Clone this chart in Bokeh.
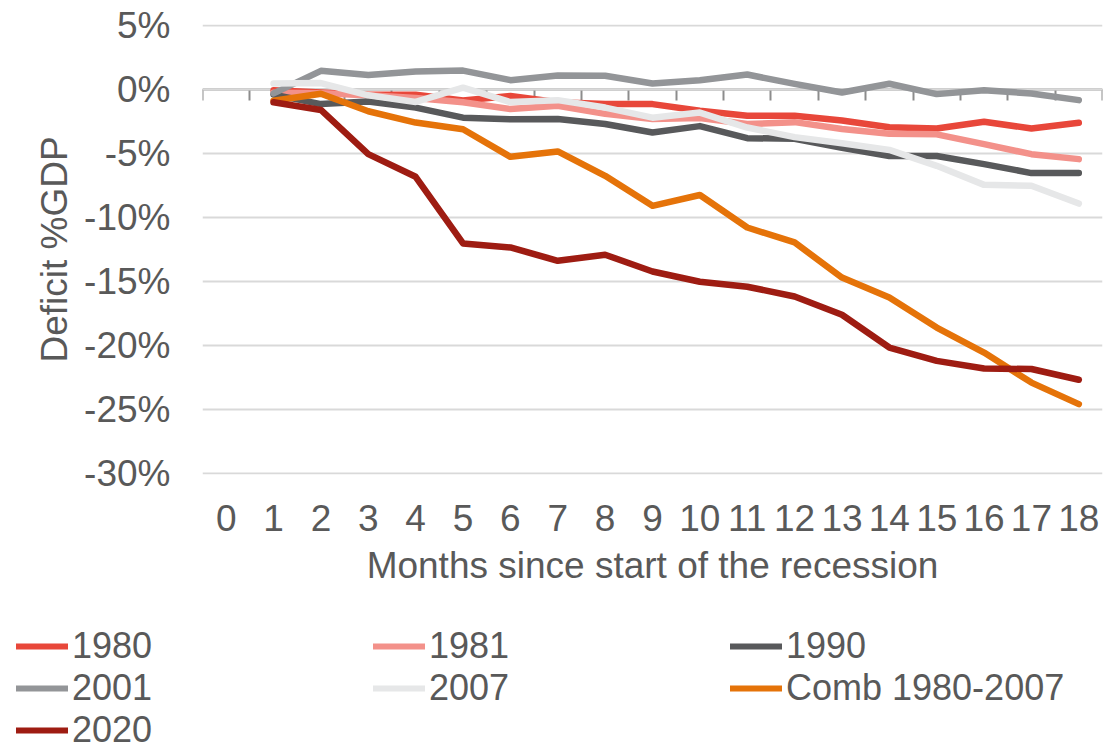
from bokeh.plotting import figure
from bokeh.layouts import column
from bokeh.models import (Range1d, FixedTicker, PrintfTickFormatter, LinearAxis,
                          Legend, LegendItem)
from bokeh.embed import file_html
from bokeh.resources import INLINE

# ---- data -------------------------------------------------------------
months = [0, 1, 2, 3, 4, 5, 6, 7, 8, 9, 10, 11, 12, 13, 14, 15, 16, 17, 18]
x_data = [1, 2, 3, 4, 5, 6, 7, 8, 9, 10, 11, 12, 13, 14, 15, 16, 17, 18]

s1980 = [-0.05, -0.23, -0.4, -0.4, -0.85, -0.5, -1.0, -1.14, -1.14, -1.66, -2.05, -2.05,
         -2.42, -2.95, -3.05, -2.52, -3.05, -2.6]
s1981 = [-0.25, -0.3, -0.45, -0.67, -1.0, -1.53, -1.27, -1.9, -2.3, -2.23, -2.7, -2.55,
         -3.08, -3.46, -3.5, -4.27, -5.05, -5.44]
s1990 = [-0.4, -1.14, -0.94, -1.41, -2.2, -2.33, -2.31, -2.7, -3.36, -2.86, -3.8, -3.85,
         -4.55, -5.2, -5.2, -5.83, -6.53, -6.53]
s2001 = [-0.3, 1.46, 1.13, 1.4, 1.48, 0.73, 1.1, 1.07, 0.47, 0.73, 1.17, 0.44,
         -0.23, 0.45, -0.36, -0.05, -0.31, -0.83]
s2007 = [0.47, 0.5, -0.45, -0.97, 0.14, -0.98, -0.83, -1.41, -2.2, -1.8, -2.97, -3.72,
         -4.2, -4.72, -5.96, -7.45, -7.52, -8.91]
comb = [-0.88, -0.33, -1.7, -2.58, -3.1, -5.26, -4.84, -6.74, -9.09, -8.24, -10.78, -11.95,
        -14.69, -16.25, -18.6, -20.55, -22.9, -24.58]
s2020 = [-1.0, -1.6, -5.05, -6.82, -12.03, -12.34, -13.38, -12.91, -14.22, -15.02, -15.41,
         -16.17, -17.6, -20.16, -21.2, -21.8, -21.84, -22.68]

series_names = ["1980", "1981", "1990", "2001", "2007", "Comb 1980-2007", "2020"]
series_values = [s1980, s1981, s1990, s2001, s2007, comb, s2020]
series_colors = ["#E8473A", "#F3918A", "#58595B", "#939598", "#E6E7E8", "#E57309", "#9E1C12"]

y_ticks = [-30, -25, -20, -15, -10, -5, 0, 5]

FONT = "Liberation Sans"
FS = "37px"
TXT = "#595959"
LW = 6.5

# ---- main figure --------------------------------------------------------
p = figure(width=1104, height=610, output_backend="svg", toolbar_location=None,
           x_range=Range1d(-0.5, 18.5), y_range=Range1d(-30.08, 5.08),
           min_border_left=202, min_border_right=2, min_border_top=24,
           min_border_bottom=136, x_axis_location="below")
p.outline_line_color = None
p.background_fill_color = "white"
p.border_fill_color = "white"

p.xgrid.visible = False
p.ygrid.ticker = FixedTicker(ticks=y_ticks)
p.ygrid.grid_line_color = "#D9D9D9"
p.ygrid.grid_line_width = 2

ya = p.yaxis[0]
ya.ticker = FixedTicker(ticks=y_ticks)
ya.formatter = PrintfTickFormatter(format="%d%%")
ya.axis_line_color = None
ya.major_tick_line_color = None
ya.minor_tick_line_color = None
ya.major_tick_out = 0
ya.major_tick_in = 0
ya.major_label_standoff = 32
ya.major_label_text_font = FONT
ya.major_label_text_font_size = FS
ya.major_label_text_color = TXT
ya.axis_label = "Deficit %GDP"
ya.axis_label_text_font = FONT
ya.axis_label_text_font_size = FS
ya.axis_label_text_font_style = "normal"
ya.axis_label_text_color = TXT
ya.axis_label_standoff = 6

xa = p.xaxis[0]
xa.ticker = FixedTicker(ticks=months)
xa.axis_line_color = None
xa.major_tick_line_color = None
xa.minor_tick_line_color = None
xa.major_tick_out = 0
xa.major_tick_in = 0
xa.major_label_standoff = 30
xa.major_label_text_font = FONT
xa.major_label_text_font_size = FS
xa.major_label_text_color = TXT
xa.axis_label = "Months since start of the recession"
xa.axis_label_text_font = FONT
xa.axis_label_text_font_size = FS
xa.axis_label_text_font_style = "normal"
xa.axis_label_text_color = TXT
xa.axis_label_standoff = 11

zero_axis = LinearAxis(fixed_location=0,
                       ticker=FixedTicker(ticks=[m - 0.5 for m in months] + [months[-1] + 0.5]),
                       axis_line_color="#8C8C8C", axis_line_width=2,
                       major_tick_line_color="#8C8C8C", major_tick_line_width=2,
                       major_tick_in=11, major_tick_out=0,
                       minor_tick_line_color=None,
                       major_label_text_font_size="1px", major_label_text_alpha=0,
                       major_label_standoff=0, level="underlay")
p.add_layout(zero_axis, "above")

for name, vals, col in zip(series_names, series_values, series_colors):
    p.line(x_data, vals, line_color=col, line_width=LW,
           line_cap="round", line_join="round")

# ---- legend figure (series drawn out of view; only the legend shows) -----
lg = figure(width=1104, height=141, output_backend="svg", toolbar_location=None,
            x_range=Range1d(100, 101), y_range=Range1d(100, 101),
            x_axis_location=None, y_axis_location=None, frame_align=False,
            min_border_left=0, min_border_right=0, min_border_top=0, min_border_bottom=0)
lg.outline_line_color = None
lg.grid.visible = False
lg.background_fill_color = "white"
lg.border_fill_color = "white"

items = []
for name, vals, col in zip(series_names, series_values, series_colors):
    r = lg.line(x_data, vals, line_color=col, line_width=6, line_cap="round")
    items.append(LegendItem(label=name, renderers=[r]))

legend = Legend(items=items, orientation="horizontal", ncols=3,
                location=(16, 0),
                glyph_width=52, glyph_height=40, label_height=40, label_width=301,
                label_standoff=4, spacing=0, padding=0, margin=0,
                border_line_color=None, background_fill_alpha=0,
                label_text_font=FONT, label_text_font_size="36px",
                label_text_color=TXT)
lg.add_layout(legend, "center")

layout = column(p, lg, spacing=0)
open("out.html", "w").write(file_html(layout, INLINE))
